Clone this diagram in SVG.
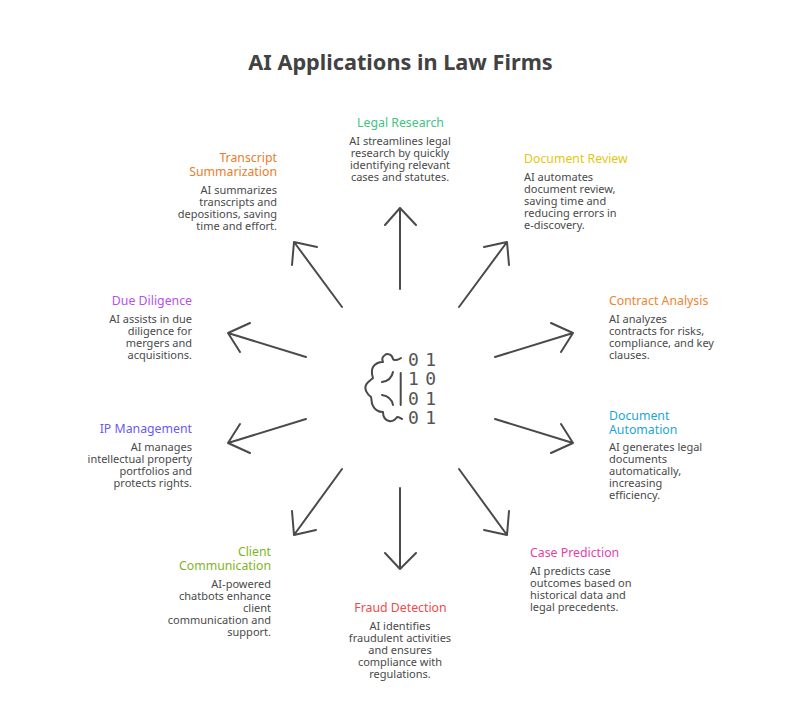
<svg xmlns="http://www.w3.org/2000/svg" width="800" height="727" viewBox="0 0 800 727">
<style>
text{font-family:"Noto Sans","DejaVu Sans",sans-serif;font-size:11px;fill:#4a4a4a}
.t{font-size:21.700px;font-weight:700;text-anchor:middle;fill:#424242}
.h{font-size:12.300px}
.m{text-anchor:middle}.e{text-anchor:end}
.c{fill:none;stroke:#4a4a4a;stroke-width:2;stroke-linecap:round;stroke-linejoin:round}
.d{font-family:"DejaVu Sans Mono","Liberation Mono",monospace;font-size:18px;fill:#555555;letter-spacing:-2.200px}
</style>
<rect width="800" height="727" fill="#ffffff"/>
<text class="t" x="400.500" y="70">AI Applications in Law Firms</text>
<g id="connectors" class="c">
<path d="M400 289V208M385 225L400 208L416 225"/>
<path d="M459 307L507 242M484 247L507 242L509 265"/>
<path d="M495 357L573 333M551 323L573 333L561 352"/>
<path d="M495 419L573 443M561 424L573 443L551 453"/>
<path d="M459 469L507 535M509 511L507 535L484 530"/>
<path d="M400 488V569M385 553L400 569L416 553"/>
<path d="M342 469L294 535M316 530L294 535L292 511"/>
<path d="M306 419L228 443M250 453L228 443L240 424"/>
<path d="M306 357L228 333M240 352L228 333L250 323"/>
<path d="M342 307L294 242M292 265L294 242L317 247"/>
</g>
<g id="center">
<path class="c" d="M401 358C398 360 394 361 393 359C392 354 387 353 385 355C382 357 382 360 383 362C379 362 375 364 373 367C371 371 372 375 373 378C371 380 367 382 366 385C364 389 367 394 371 397C372 400 371 403 373 406C375 410 379 412 383 412C383 416 385 420 389 421C393 422 395 420 397 417C399 417 400 418 402 419M393 372C392 377 389 381 382 382M393 405C392 400 389 396 382 395M400.700 373V405"/>
<text class="d" xml:space="preserve"><tspan x="408" y="366">0 1</tspan><tspan x="408" y="385">1 0</tspan><tspan x="408" y="405">0 1</tspan><tspan x="408" y="424">0 1</tspan></text>
</g>
<g id="legal-research">
<text class="h m" x="400.500" y="127" style="fill:#41c484">Legal Research</text>
<text class="m"><tspan x="400" y="145">AI streamlines legal</tspan><tspan x="400" y="157">research by quickly</tspan><tspan x="400" y="169">identifying relevant</tspan><tspan x="400" y="181">cases and statutes.</tspan></text>
</g>
<g id="document-review">
<text class="h" x="524" y="163" style="fill:#e3c710">Document Review</text>
<text><tspan x="524" y="181">AI automates</tspan><tspan x="524" y="193">document review,</tspan><tspan x="524" y="205">saving time and</tspan><tspan x="524" y="217">reducing errors in</tspan><tspan x="524" y="229">e-discovery.</tspan></text>
</g>
<g id="contract-analysis">
<text class="h" x="609" y="305" style="fill:#ef8433">Contract Analysis</text>
<text><tspan x="609" y="323">AI analyzes</tspan><tspan x="609" y="335">contracts for risks,</tspan><tspan x="609" y="347">compliance, and key</tspan><tspan x="609" y="359">clauses.</tspan></text>
</g>
<g id="document-automation">
<text class="h" style="fill:#1ea5d8"><tspan x="609" y="420">Document</tspan><tspan x="609" y="434">Automation</tspan></text>
<text><tspan x="609" y="451">AI generates legal</tspan><tspan x="609" y="463">documents</tspan><tspan x="609" y="475">automatically,</tspan><tspan x="609" y="487">increasing</tspan><tspan x="609" y="499">efficiency.</tspan></text>
</g>
<g id="case-prediction">
<text class="h" x="530" y="557" style="fill:#e53fa8">Case Prediction</text>
<text><tspan x="530" y="575">AI predicts case</tspan><tspan x="530" y="587">outcomes based on</tspan><tspan x="530" y="599">historical data and</tspan><tspan x="530" y="611">legal precedents.</tspan></text>
</g>
<g id="fraud-detection">
<text class="h m" x="400.500" y="612" style="fill:#ee4b4b">Fraud Detection</text>
<text class="m"><tspan x="400" y="630">AI identifies</tspan><tspan x="400" y="642">fraudulent activities</tspan><tspan x="400" y="654">and ensures</tspan><tspan x="400" y="666">compliance with</tspan><tspan x="400" y="678">regulations.</tspan></text>
</g>
<g id="client-communication">
<text class="h e" style="fill:#80b51f"><tspan x="271" y="556">Client</tspan><tspan x="271" y="570">Communication</tspan></text>
<text class="e"><tspan x="271" y="588">AI-powered</tspan><tspan x="271" y="600">chatbots enhance</tspan><tspan x="271" y="612">client</tspan><tspan x="271" y="624">communication and</tspan><tspan x="271" y="636">support.</tspan></text>
</g>
<g id="ip-management">
<text class="h e" x="192" y="433" style="fill:#6a5af0">IP Management</text>
<text class="e"><tspan x="192" y="451">AI manages</tspan><tspan x="192" y="463">intellectual property</tspan><tspan x="192" y="475">portfolios and</tspan><tspan x="192" y="487">protects rights.</tspan></text>
</g>
<g id="due-diligence">
<text class="h e" x="192" y="305" style="fill:#b44ff0">Due Diligence</text>
<text class="e"><tspan x="192" y="323">AI assists in due</tspan><tspan x="192" y="335">diligence for</tspan><tspan x="192" y="347">mergers and</tspan><tspan x="192" y="359">acquisitions.</tspan></text>
</g>
<g id="transcript-summarization">
<text class="h e" style="fill:#ea7d2c"><tspan x="277" y="162">Transcript</tspan><tspan x="277" y="176">Summarization</tspan></text>
<text class="e"><tspan x="277" y="194">AI summarizes</tspan><tspan x="277" y="206">transcripts and</tspan><tspan x="277" y="218">depositions, saving</tspan><tspan x="277" y="230">time and effort.</tspan></text>
</g>
</svg>
